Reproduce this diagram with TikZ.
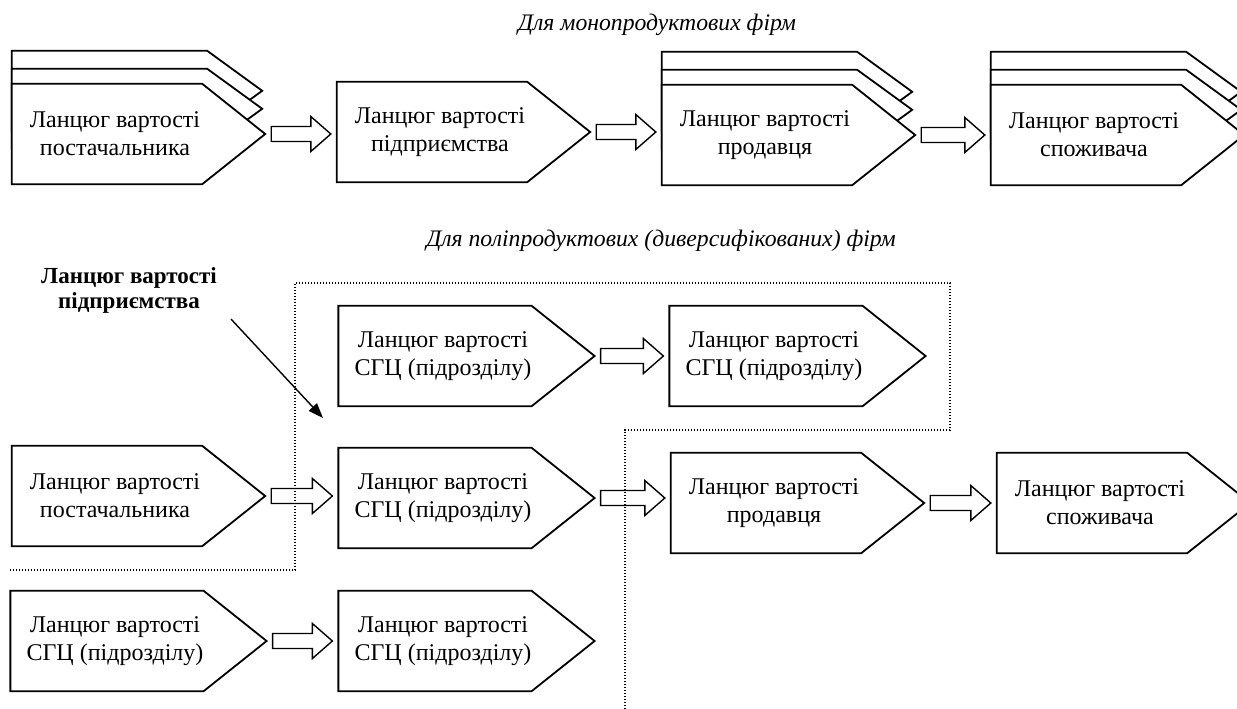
\documentclass[tikz,border=0pt]{standalone}
\usepackage{fontspec}
\setmainfont{Liberation Serif}
\usetikzlibrary{calc,backgrounds,arrows.meta}

\tikzset{
  chevtext/.style={minimum width=174pt, minimum height=100pt, inner sep=0pt,
    align=center, font=\fontsize{24}{28}\selectfont},
  chevline/.style={line width=1.8pt, fill=white, line join=miter},
  blockline/.style={line width=1.4pt, fill=white},
  heading/.style={font=\fontsize{23.7}{27}\selectfont\itshape},
  boldlabel/.style={inner sep=0pt, align=center, font=\fontsize{23}{25}\selectfont\bfseries},
  boundary/.style={line width=1.3pt, dash pattern=on 1.3pt off 1.7pt},
  pointer/.style={line width=1.4pt, -{Triangle[length=15pt,width=11pt]}}
}

% pentagon outline around a text node (the point lies 63pt right of its east side)
\newcommand\chevron[1]{%
  \begin{pgfonlayer}{background}
  \draw[chevline] ([xshift=-16pt]#1.north west) -- (#1.north east)
    -- ([xshift=63pt]#1.east) -- (#1.south east)
    -- ([xshift=-16pt]#1.south west) -- cycle;
  \end{pgfonlayer}}
% a stacked copy peeking out above the front pentagon
\newcommand\chevlayer[2]{%
  \begin{pgfonlayer}{background}
  \draw[chevline] ([xshift=-16pt,yshift=#2pt]#1.north west)
    -- ([xshift=5pt,yshift=#2pt]#1.north east)
    -- ([xshift=60pt,yshift=#2pt-40pt]#1.north east)
    -- ([xshift=5pt,yshift=#2pt-80pt]#1.north east)
    -- ([xshift=-16pt,yshift=#2pt-80pt]#1.north west) -- cycle;
  \end{pgfonlayer}}
% hollow block arrow from the point of one pentagon to the next one
\newcommand\blockarrow[2]{%
  \draw[blockline] let \p1=([xshift=69pt]#1.east), \p2=([xshift=-22pt]#2.west) in
    (\x1,\y1+7.5pt) -- (\x2-20pt,\y1+7.5pt) -- (\x2-20pt,\y1+17.5pt)
    -- (\x2,\y1) -- (\x2-20pt,\y1-17.5pt) -- (\x2-20pt,\y1-7.5pt)
    -- (\x1,\y1-7.5pt) -- cycle;}

\begin{document}
\begin{tikzpicture}[x=1pt,y=-1pt]
\useasboundingbox (0,0) rectangle (1237,709);

% ---- single-product firms ----
\node[heading] (h1) at (657,25) {Для монопродуктових фірм};

\node[chevtext] (t1) at (115,134) {Ланцюг вартості\\постачальника};
\node[chevtext] (t2) at (440,132) {Ланцюг вартості\\підприємства};
\node[chevtext] (t3) at (765,135) {Ланцюг вартості\\продавця};
\node[chevtext] (t4) at (1094,135) {Ланцюг вартості\\споживача};

\chevlayer{t1}{33}\chevlayer{t1}{15}\chevron{t1}
\chevron{t2}
\chevlayer{t3}{33}\chevlayer{t3}{15}\chevron{t3}
\chevlayer{t4}{33}\chevlayer{t4}{15}\chevron{t4}

\blockarrow{t1}{t2}
\blockarrow{t2}{t3}
\blockarrow{t3}{t4}

% ---- diversified firms ----
\node[heading] (h2) at (661,241) {Для поліпродуктових (диверсифікованих) фірм};

\node[boldlabel] (lbl) at (129,290) {Ланцюг вартості\\підприємства};

\node[chevtext] (a1) at (443,356) {Ланцюг вартості\\СГЦ (підрозділу)};
\node[chevtext] (a2) at (774,356) {Ланцюг вартості\\СГЦ (підрозділу)};
\node[chevtext] (b0) at (115,496) {Ланцюг вартості\\постачальника};
\node[chevtext] (b1) at (443,498) {Ланцюг вартості\\СГЦ (підрозділу)};
\node[chevtext] (b2) at (774,503) {Ланцюг вартості\\продавця};
\node[chevtext] (b3) at (1100,503) {Ланцюг вартості\\споживача};
\node[chevtext] (c0) at (115,641) {Ланцюг вартості\\СГЦ (підрозділу)};
\node[chevtext] (c1) at (443,641) {Ланцюг вартості\\СГЦ (підрозділу)};

\chevron{a1}\chevron{a2}
\chevron{b0}\chevron{b1}\chevron{b2}\chevron{b3}
\chevron{c0}\chevron{c1}

\blockarrow{a1}{a2}
\blockarrow{b0}{b1}
\blockarrow{b1}{b2}
\blockarrow{b2}{b3}
\blockarrow{c0}{c1}

\coordinate (ptr) at (323,418);
\draw[pointer] ([xshift=14pt,yshift=-6pt]lbl.south east) -- (ptr);

% dotted boundary of the enterprise value chain
\draw[boundary] (10,570) -- (295,570) -- (295,283) -- (950,283)
  -- (950,430) -- (625,430) -- (625,709);
\end{tikzpicture}
\end{document}
